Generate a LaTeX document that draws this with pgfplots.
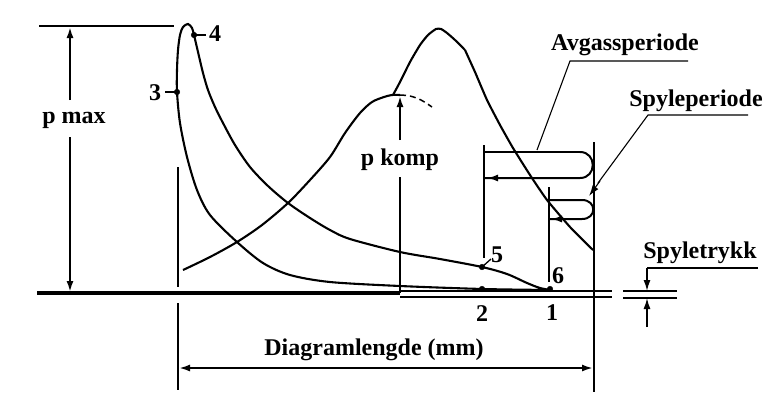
\documentclass[border=0pt]{standalone}
\usepackage{pgfplots}
\pgfplotsset{compat=1.18}
\usepackage{fontspec}
\setmainfont{Liberation Serif}
\usetikzlibrary{arrows.meta}
\begin{document}
\begin{tikzpicture}[
  lbl/.style={font=\fontsize{24bp}{27bp}\selectfont\bfseries, anchor=base, inner sep=0pt},
  ar/.style={-{Latex[length=11bp,width=7bp]}},
]
\begin{axis}[width=770bp,height=396bp,scale only axis,
  xmin=0,xmax=770,ymin=0,ymax=396,y dir=reverse,hide axis,clip=false]
\path (0,0) rectangle (770,396);
% indicator diagram loop: 1 -> 2 -> 3 -> 4 -> 5 -> 6/1
\addplot[black, line width=2.1pt, smooth, tension=0.5] coordinates {
 (551,290) (483,289) (400,286) (330,282) (290,275) (263,263) (237,242) (210,215)
 (197,190) (187,157) (180,123) (177,92) (177,70) (178,50)
 (180,35) (183,27) (188,24) (192,28) (194,35) (198,52) (203,73) (208,90) (215,107)
 (223,123) (235,145) (250,167) (268,186) (288,203) (310,218) (330,230) (350,239)
 (400,252) (440,259) (482,267) (507,274) (527,283) (540,288) (551,290)};
% compression curve (offset diagram)
\addplot[black, line width=2.1pt, smooth, tension=0.5] coordinates {
 (183,270) (210,257) (237,242) (262,225) (288,203) (310,180) (330,157) (345,133)
 (360,113) (372,102) (384,97) (392,95) (400,95)};
\addplot[black, line width=1.5pt, dashed, dash pattern=on 6bp off 4bp, smooth] coordinates {
 (400,95) (410,96) (421,100) (432,107)};
% firing curve
\addplot[black, line width=2.1pt, smooth, tension=0.35] coordinates {
 (393,95) (400,82) (410,62) (420,45) (428,35) (436,29) (441,29) (447,33) (455,40) (465,50)};
\addplot[black, line width=2.1pt, smooth, tension=0.3] coordinates {
 (465,50) (475,72) (487,100) (500,125) (513,148) (530,175) (547,200) (570,227) (593,250)};
% points
\addplot[only marks, mark=*, mark size=2.8bp, black] coordinates {
 (177,92) (194,35) (482,267) (482,289) (550,289)};
% tick dashes at 3 and 4 and 5
\draw[line width=1.8pt] (165,92) -- (177,92);
\draw[line width=1.8pt] (194,35) -- (206,35);
\draw[line width=1.3pt] (482,267) -- (491,259);
% baseline
\draw[line width=3.3pt] (37,293) -- (400,293);
\draw[line width=1.8pt] (400,291) -- (612,291);
\draw[line width=1.8pt] (400,297) -- (612,297);
% p max
\draw[line width=1.6pt] (39,26) -- (174,26);
\draw[line width=2pt, ar] (70,100) -- (70,27);
\draw[line width=2pt, ar] (70,137) -- (70,292);
\node[lbl] at (74,123) {p max};
% p komp
\draw[line width=2pt, ar] (400,140) -- (400,96);
\draw[line width=2pt] (400,177) -- (400,293);
\node[lbl] at (400,165) {p komp};
% Diagramlengde
\draw[line width=1.9pt] (178,167) -- (178,287);
\draw[line width=1.9pt] (178,303) -- (178,390);
\draw[line width=1.9pt] (594,142) -- (594,392);
\draw[line width=2pt, {Latex[length=11bp,width=7bp]}-{Latex[length=11bp,width=7bp]}] (179,368) -- (593,368);
\node[lbl] at (374,355) {Diagramlengde (mm)};
% exhaust loop
\draw[line width=2pt] (484,145) -- (484,258);
\draw[line width=2pt] (484,152) -- (580,152) .. controls (597,152) and (597,178) .. (580,178) -- (484,178);
\draw[line width=2pt, ar] (520,178) -- (487,178);
% scavenging loop
\draw[line width=2pt] (549,187) -- (549,282);
\draw[line width=2pt] (549,200) -- (582,200) .. controls (597,200) and (597,219) .. (582,219) -- (549,219);
\draw[line width=2pt, ar] (575,219) -- (551,219);
% leaders
\draw[line width=1.1pt] (688,61) -- (570,61) -- (537,150);
\node[lbl] at (625,50) {Avgassperiode};
\draw[line width=1.1pt] (748,115) -- (648,115) -- (598,183);
\draw[line width=1.1pt, ar] (600,181) -- (589,196);
\node[lbl] at (696,106) {Spyleperiode};
% Spyletrykk
\draw[line width=1.8pt] (623,291) -- (677,291);
\draw[line width=1.8pt] (623,298) -- (677,298);
\draw[line width=1.5pt] (758,268) -- (647,268);
\draw[line width=1.5pt, ar] (647,268) -- (647,291);
\draw[line width=1.5pt, ar] (647,327) -- (647,298);
\node[lbl] at (700,258) {Spyletrykk};
% point labels
\node[lbl] at (155,100) {3};
\node[lbl] at (215,41) {4};
\node[lbl] at (497,262) {5};
\node[lbl] at (558,283) {6};
\node[lbl] at (482,321) {2};
\node[lbl] at (552,320) {1};
\end{axis}
\end{tikzpicture}
\end{document}
